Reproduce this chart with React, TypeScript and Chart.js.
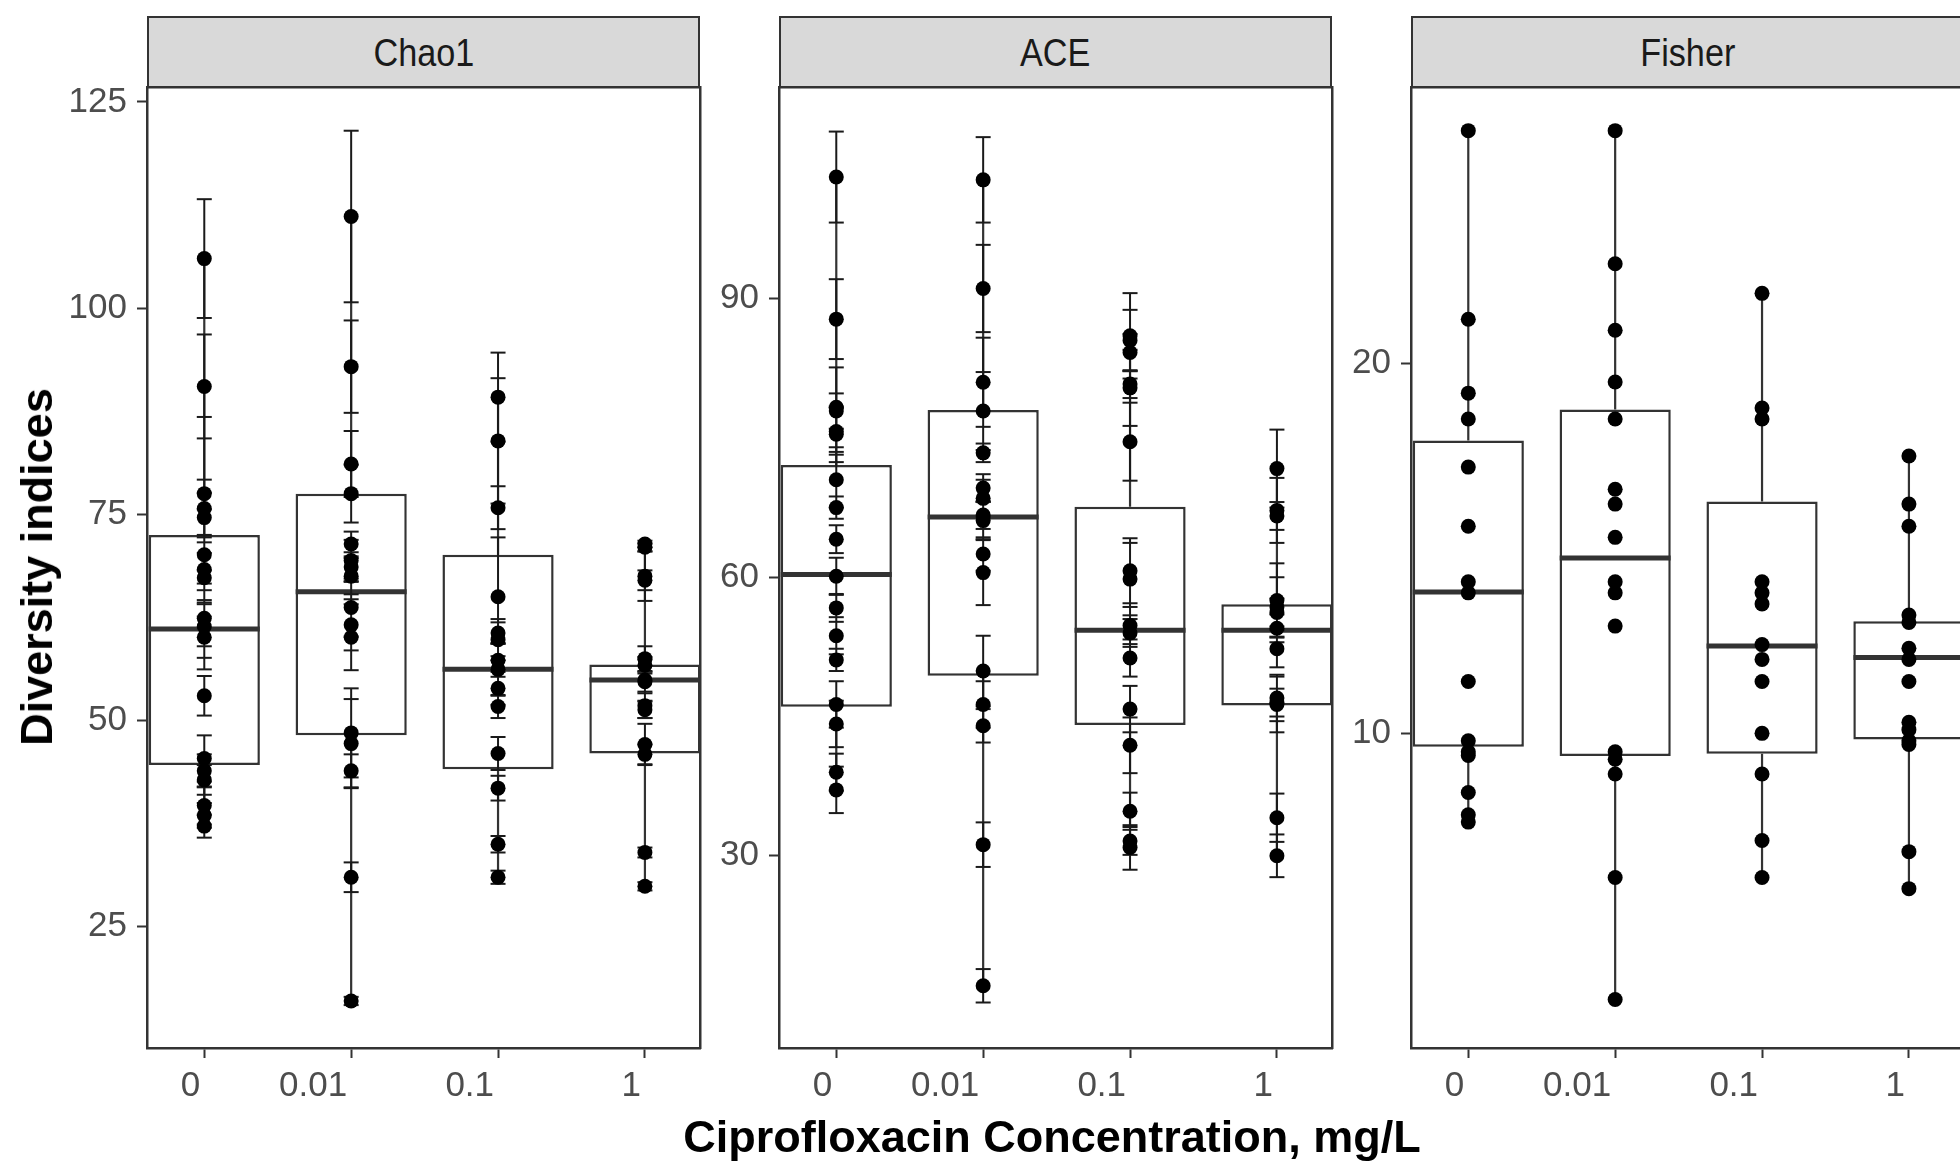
import React, { useEffect, useRef } from "react";
import { Chart, registerables } from "chart.js";

Chart.register(...registerables);

// ---------------- DATA ----------------
const categories = ["0", "0.01", "0.1", "1"];

// Chao1
const chao1Values = [
  [106.0, 90.5, 77.5, 75.7, 74.6, 70.1, 68.3, 67.3, 62.4, 61.4, 60.1, 53.0, 45.4, 43.9, 42.8, 39.7, 38.5, 37.2],
  [111.1, 92.9, 81.1, 77.5, 71.4, 69.4, 68.6, 67.5, 63.7, 61.6, 60.1, 48.5, 47.2, 43.9, 31.0, 16.0],
  [89.2, 83.9, 75.8, 65.0, 60.6, 59.8, 57.3, 56.2, 53.9, 51.7, 46.0, 41.8, 35.0, 31.0],
  [71.4, 71.0, 67.5, 67.0, 57.5, 56.7, 54.9, 54.7, 51.8, 51.3, 47.1, 45.9, 34.0, 29.9],
];
const chao1Errors = [
  [7.2, 6.3, 9.3, 3.5, 3.0, 5.5, 4.2, 3.0, 3.4, 5.2, 2.5, 2.4, 2.8, 2.0, 1.8, 2.3, 1.5, 1.4],
  [10.4, 5.6, 4.0, 3.5, 1.5, 2.5, 1.8, 2.2, 3.5, 3.1, 4.0, 5.4, 5.4, 2.0, 1.8, 0.5],
  [5.4, 7.6, 2.6, 7.2, 1.3, 2.5, 2.0, 3.2, 2.0, 1.4, 2.0, 1.5, 1.0, 0.8],
  [0.4, 0.5, 3.0, 1.2, 1.5, 1.0, 2.5, 1.2, 1.5, 1.0, 2.5, 1.2, 0.6, 0.5],
];
const chao1Q1 = [44.6, 48.2, 44.1, 46.0];
const chao1Median = [61.1, 65.6, 56.2, 54.9];
const chao1Q3 = [72.5, 77.5, 70.1, 56.8];
const chao1Low = [37.2, 16.0, 31.0, 29.9];
const chao1High = [106.0, 111.1, 89.2, 71.4];
const chao1Range = [10.3, 126.8];
const chao1Ticks = [25, 50, 75, 100, 125];

// ACE
const aceValues = [
  [103.1, 87.8, 78.3, 77.9, 75.7, 75.4, 70.5, 67.5, 64.1, 60.1, 56.7, 53.7, 51.1, 46.3, 44.2, 39.0, 37.1],
  [102.8, 91.1, 81.0, 77.9, 73.4, 69.6, 68.5, 66.7, 66.1, 62.5, 60.5, 49.9, 46.3, 44.0, 31.2, 16.0],
  [86.0, 85.5, 84.2, 80.8, 80.4, 74.6, 60.7, 59.8, 54.8, 54.0, 51.3, 45.8, 41.9, 34.8, 31.6, 30.9],
  [71.7, 67.2, 66.6, 57.5, 56.8, 56.2, 54.5, 52.3, 47.0, 46.5, 46.3, 34.1, 30.0],
];
const aceErrors = [
  [4.9, 4.3, 4.3, 1.9, 2.5, 3.0, 3.0, 1.2, 1.5, 2.0, 1.5, 2.0, 1.2, 2.5, 2.5, 2.0, 2.5],
  [4.6, 4.7, 4.8, 4.2, 1.0, 1.5, 2.0, 1.5, 2.0, 1.8, 3.5, 3.8, 2.5, 1.8, 2.4, 1.8],
  [4.6, 3.3, 2.0, 1.5, 4.1, 4.2, 3.5, 3.9, 2.0, 1.5, 2.0, 2.5, 3.0, 2.0, 1.5, 2.4],
  [4.2, 3.5, 1.5, 4.0, 3.2, 1.5, 1.5, 2.0, 2.5, 1.5, 3.0, 2.6, 2.3],
];
const aceQ1 = [46.05, 49.4, 44.1, 46.2];
const aceMedian = [60.3, 66.5, 54.3, 54.3];
const aceQ3 = [72.1, 78.0, 67.6, 57.1];
const aceLow = [37.1, 16.0, 30.9, 30.0];
const aceHigh = [103.1, 102.8, 86.0, 71.7];
const aceRange = [9.3, 112.8];
const aceTicks = [30, 60, 90];

// Fisher
const fisherValues = [
  [26.3, 21.2, 19.2, 18.5, 17.2, 15.6, 14.1, 13.8, 11.4, 9.8, 9.5, 9.4, 8.4, 7.8, 7.6],
  [26.3, 22.7, 20.9, 19.5, 18.5, 16.6, 16.2, 15.3, 14.1, 13.8, 12.9, 9.5, 9.3, 8.9, 6.1, 2.8],
  [21.9, 18.8, 18.5, 14.1, 13.8, 13.5, 12.4, 12.0, 11.4, 10.0, 8.9, 7.1, 6.1],
  [17.5, 16.2, 15.6, 13.2, 13.0, 12.3, 12.0, 11.4, 10.3, 10.1, 9.8, 9.7, 6.8, 5.8],
];
const fisherQ1 = [9.64, 9.39, 9.45, 9.83];
const fisherMedian = [13.82, 14.74, 12.36, 12.05];
const fisherQ3 = [17.92, 18.76, 16.27, 13.03];
const fisherLow = [7.6, 2.76, 6.09, 5.84];
const fisherHigh = [26.3, 26.32, 21.92, 17.53];
const fisherRange = [1.49, 27.48];
const fisherTicks = [10, 20];

const panelTitles = ["Chao1", "ACE", "Fisher"];
const yTitle = "Diversity indices";
const xTitle = "Ciprofloxacin Concentration, mg/L";

// ---------------- LAYOUT / STYLE ----------------
const FONT = '"Liberation Sans", Arial, Helvetica, sans-serif';
const PANEL_LEFTS = [147, 779, 1411];
const PANEL_W = 553;
const STRIP_TOP = 16;
const PANEL_TOP = 87;
const PANEL_BOTTOM = 1048;
const Y_AXIS_W = 110;
const X_AXIS_H = 70;
const PAD = 4;
const X_MIN = -0.39;
const X_MAX = 3.375;
const LINE = "#333333";
const TICK_TEXT = "#4d4d4d";

type PanelSpec = {
  values: number[][];
  errors: number[][] | null;
  q1: number[];
  median: number[];
  q3: number[];
  low: number[];
  high: number[];
  range: number[];
  ticks: number[];
};

const panels: PanelSpec[] = [
  { values: chao1Values, errors: chao1Errors, q1: chao1Q1, median: chao1Median, q3: chao1Q3, low: chao1Low, high: chao1High, range: chao1Range, ticks: chao1Ticks },
  { values: aceValues, errors: aceErrors, q1: aceQ1, median: aceMedian, q3: aceQ3, low: aceLow, high: aceHigh, range: aceRange, ticks: aceTicks },
  { values: fisherValues, errors: null, q1: fisherQ1, median: fisherMedian, q3: fisherQ3, low: fisherLow, high: fisherHigh, range: fisherRange, ticks: fisherTicks },
];

function zeroPad(s: any) {
  s.paddingTop = 0;
  s.paddingBottom = 0;
  s.paddingLeft = 0;
  s.paddingRight = 0;
}

function buildConfig(p: PanelSpec): any {
  const boxData = categories.map((_, i) => ({ x: i, y: [p.q1[i], p.q3[i]] }));
  const whiskerData: any[] = [];
  categories.forEach((_, i) => {
    whiskerData.push(
      { x: i, y: p.q3[i] }, { x: i, y: p.high[i] }, { x: i, y: null },
      { x: i, y: p.q1[i] }, { x: i, y: p.low[i] }, { x: i, y: null }
    );
  });
  const medianData = categories.map((_, i) => ({ x: i, y: p.median[i] }));
  const pointData: any[] = [];
  const errData: any[] = [];
  const capData: any[] = [];
  p.values.forEach((group, i) =>
    group.forEach((v, j) => {
      pointData.push({ x: i, y: v });
      if (p.errors) {
        const e = p.errors[i][j];
        errData.push({ x: i, y: v - e }, { x: i, y: v + e }, { x: i, y: null });
        capData.push({ x: i, y: v - e }, { x: i, y: v + e });
      }
    })
  );

  const datasets: any[] = [
    {
      type: "bar",
      data: boxData,
      backgroundColor: "#ffffff",
      borderColor: LINE,
      borderWidth: 2.5,
      borderSkipped: false,
      barPercentage: 0.757,
      categoryPercentage: 1,
      order: 5,
    },
    {
      type: "line",
      data: whiskerData,
      borderColor: LINE,
      borderWidth: 2.2,
      pointRadius: 0,
      spanGaps: false,
      tension: 0,
      fill: false,
      order: 4,
    },
    {
      type: "scatter",
      data: medianData,
      pointStyle: "line",
      pointRadius: 55.5,
      pointBorderColor: LINE,
      pointBorderWidth: 5,
      order: 3,
    },
  ];
  if (p.errors) {
    datasets.push(
      {
        type: "line",
        data: errData,
        borderColor: "#1a1a1a",
        borderWidth: 2,
        pointRadius: 0,
        spanGaps: false,
        tension: 0,
        fill: false,
        order: 2,
      },
      {
        type: "scatter",
        data: capData,
        pointStyle: "line",
        pointRadius: 7.5,
        pointBorderColor: "#1a1a1a",
        pointBorderWidth: 2,
        order: 1,
      }
    );
  }
  datasets.push({
    type: "scatter",
    data: pointData,
    pointStyle: "circle",
    pointRadius: 7.5,
    pointBackgroundColor: "#000000",
    pointBorderColor: "#000000",
    pointBorderWidth: 0,
    order: 0,
  });

  const tickFont = { family: FONT, size: 35 };
  const gridOpts = { display: true, offset: false, drawOnChartArea: false, drawTicks: true, tickLength: 10, tickWidth: 2, tickColor: LINE };
  const borderOpts = { display: true, color: LINE, width: 2.5 };

  return {
    type: "scatter",
    data: { datasets },
    options: {
      responsive: false,
      maintainAspectRatio: false,
      devicePixelRatio: 1,
      animation: false,
      events: [],
      layout: { padding: { top: PAD, right: PAD, left: 0, bottom: 0 }, autoPadding: false },
      plugins: { legend: { display: false }, tooltip: { enabled: false }, title: { display: false } },
      scales: {
        x: {
          type: "linear",
          position: "bottom",
          offset: false,
          min: X_MIN,
          max: X_MAX,
          afterBuildTicks: (s: any) => { s.ticks = categories.map((_, i) => ({ value: i })); },
          afterFit: (s: any) => { s.height = X_AXIS_H; zeroPad(s); },
          ticks: {
            callback: (v: any) => categories[Math.round(Number(v))],
            font: tickFont,
            color: TICK_TEXT,
            padding: 7,
            align: "end",
            labelOffset: -4,
            maxRotation: 0,
            minRotation: 0,
            autoSkip: false,
          },
          grid: gridOpts,
          border: borderOpts,
        },
        y: {
          type: "linear",
          position: "left",
          offset: false,
          min: p.range[0],
          max: p.range[1],
          afterBuildTicks: (s: any) => { s.ticks = p.ticks.map((t) => ({ value: t })); },
          afterFit: (s: any) => { s.width = Y_AXIS_W; zeroPad(s); },
          ticks: { font: tickFont, color: TICK_TEXT, padding: 10 },
          grid: gridOpts,
          border: borderOpts,
        },
        xTop: {
          type: "linear",
          position: "top",
          display: true,
          offset: false,
          min: X_MIN,
          max: X_MAX,
          afterFit: (s: any) => { s.height = 0; zeroPad(s); },
          ticks: { display: false },
          grid: { display: false, drawTicks: false },
          border: borderOpts,
        },
        yRight: {
          type: "linear",
          position: "right",
          display: true,
          offset: false,
          min: p.range[0],
          max: p.range[1],
          afterFit: (s: any) => { s.width = 0; zeroPad(s); },
          ticks: { display: false },
          grid: { display: false, drawTicks: false },
          border: borderOpts,
        },
      },
    },
  };
}

export default function App() {
  const r0 = useRef<HTMLCanvasElement>(null);
  const r1 = useRef<HTMLCanvasElement>(null);
  const r2 = useRef<HTMLCanvasElement>(null);
  const refs = [r0, r1, r2];

  useEffect(() => {
    Chart.defaults.font.family = FONT;
    const charts = panels.map((p, i) => new Chart(refs[i].current as HTMLCanvasElement, buildConfig(p)));
    return () => charts.forEach((c) => c.destroy());
  }, []);

  const canvasW = Y_AXIS_W + PANEL_W + PAD;
  const canvasH = PAD + (PANEL_BOTTOM - PANEL_TOP) + X_AXIS_H;

  return (
    <div
      style={{
        position: "fixed",
        left: 0,
        top: 0,
        width: 1960,
        height: 1166,
        overflow: "hidden",
        background: "#ffffff",
        fontFamily: FONT,
      }}
    >
      {panels.map((_, i) => (
        <React.Fragment key={i}>
          <div
            style={{
              position: "absolute",
              left: PANEL_LEFTS[i],
              top: STRIP_TOP,
              width: PANEL_W,
              height: PANEL_TOP - STRIP_TOP + 1,
              boxSizing: "border-box",
              border: `2.5px solid ${LINE}`,
              background: "#d9d9d9",
              color: "#1a1a1a",
              fontSize: 38,
              display: "flex",
              alignItems: "center",
              justifyContent: "center",
              paddingTop: 3,
            }}
          >
            <span style={{ display: "inline-block", transform: "scaleX(0.9)" }}>{panelTitles[i]}</span>
          </div>
          <canvas
            ref={refs[i]}
            width={canvasW}
            height={canvasH}
            style={{
              position: "absolute",
              left: PANEL_LEFTS[i] - Y_AXIS_W,
              top: PANEL_TOP - PAD,
              width: canvasW,
              height: canvasH,
            }}
          />
        </React.Fragment>
      ))}
      <div
        style={{
          position: "absolute",
          left: 37,
          top: 567,
          transform: "translate(-50%, -50%) rotate(-90deg)",
          whiteSpace: "nowrap",
          fontWeight: "bold",
          fontSize: 45,
          color: "#000",
        }}
      >
        {yTitle}
      </div>
      <div
        style={{
          position: "absolute",
          left: 1052,
          top: 1137,
          transform: "translate(-50%, -50%)",
          whiteSpace: "nowrap",
          fontWeight: "bold",
          fontSize: 45,
          color: "#000",
        }}
      >
        {xTitle}
      </div>
    </div>
  );
}
